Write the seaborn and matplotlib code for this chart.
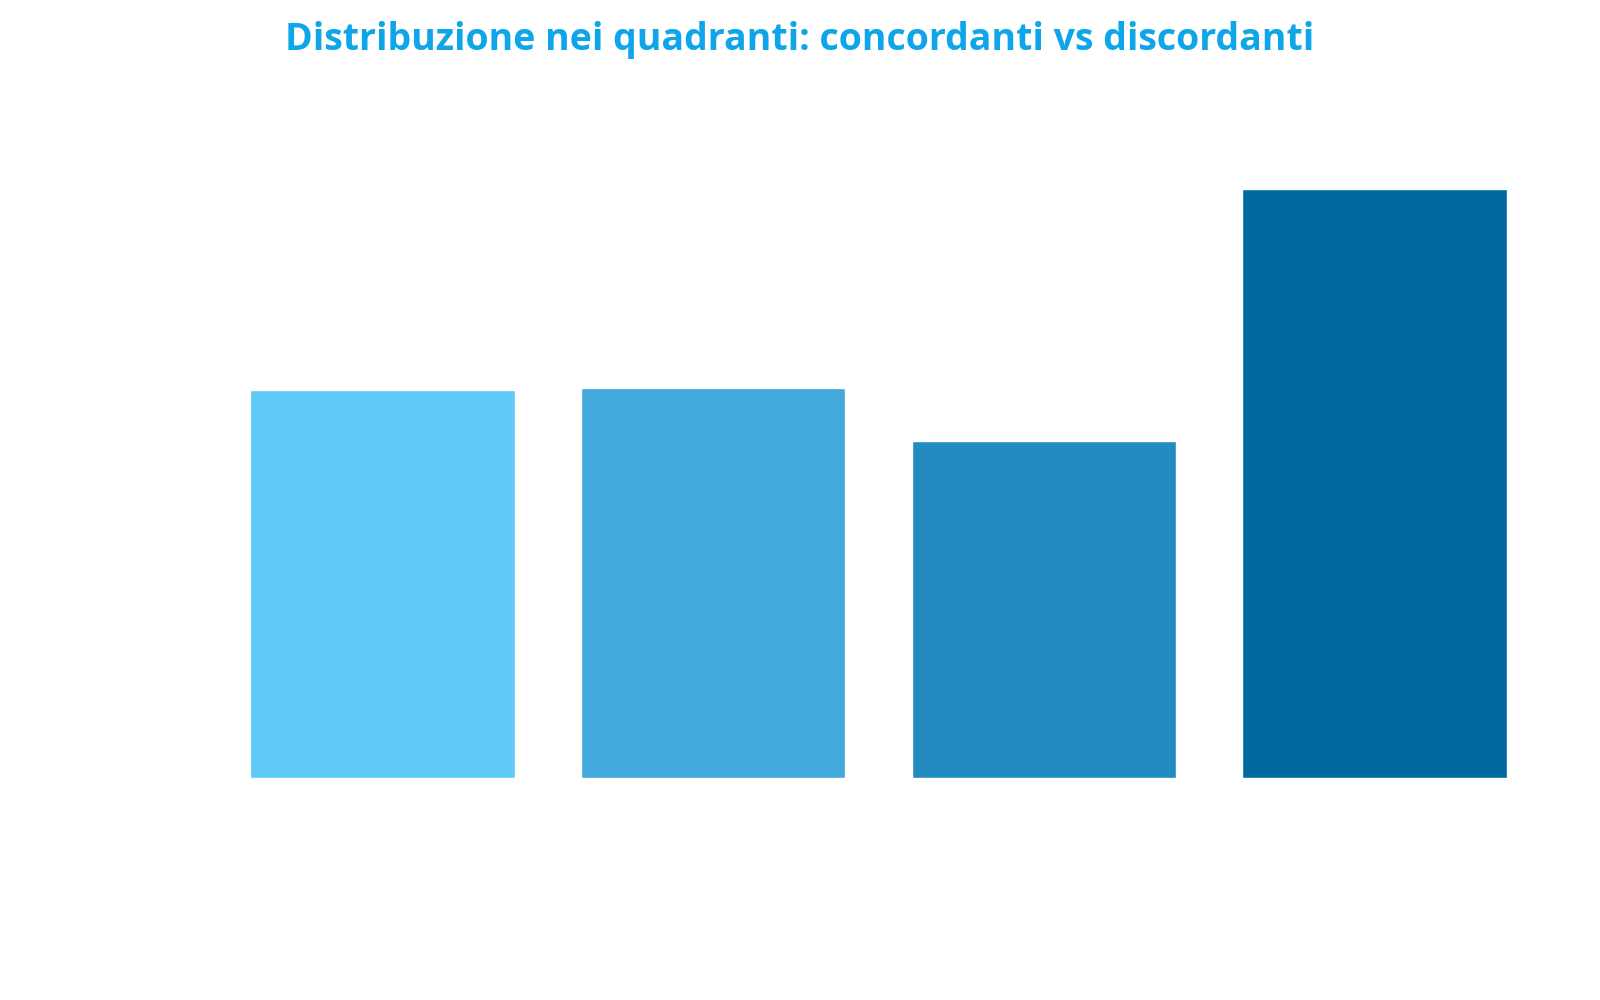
import pandas as pd
import numpy as np
import matplotlib
matplotlib.use("Agg")
import matplotlib.pyplot as plt
import seaborn as sns

# Quadrant shares
quadranti = ["I (+,+)", "II (-,+)", "III (-,-)", "IV (+,-)"]
percentuali = [22.8, 22.9, 19.8, 34.6]
colori = ["#5FC9F8", "#41A9DB", "#228BC0", "#0069A0"]

df = pd.DataFrame({"quadrante": quadranti, "percentuale": percentuali})

sns.set_theme(style="white")
plt.rcParams["font.family"] = ["Open Sans", "DejaVu Sans"]

fig = plt.figure(figsize=(16, 10), dpi=100)
ax = fig.add_axes([0.1358, 0.222, 0.8265, 0.6124])

sns.barplot(data=df, x="quadrante", y="percentuale", hue="quadrante",
            palette=colori, width=0.8, saturation=1, legend=False, ax=ax)

ax.set_ylim(0, 36)
ax.set_xlim(-0.5, len(quadranti) - 0.5)
ax.axis("off")

fig.text(0.50, 0.960, "Distribuzione nei quadranti: concordanti vs discordanti",
         ha="center", va="center", fontsize=27, fontweight="bold", color="#0EA5E9")

fig.savefig("out.png", dpi=100, facecolor="white")
